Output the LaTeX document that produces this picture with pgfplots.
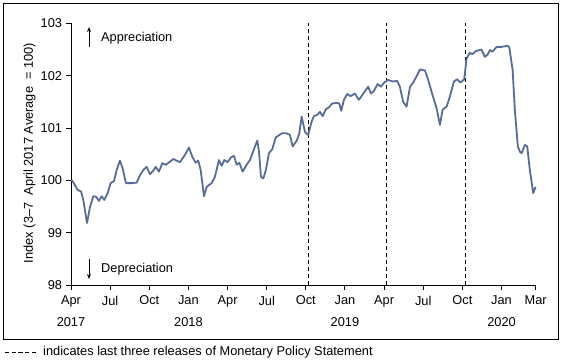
\documentclass[border=0pt]{standalone}
\usepackage{pgfplots}
\pgfplotsset{compat=1.18}
\usetikzlibrary{arrows.meta}
\usepackage{fontspec}
\setmainfont{Liberation Sans}
\definecolor{linec}{RGB}{88,108,150}
\begin{document}
\fontsize{12.8}{15}\selectfont
\begin{tikzpicture}
\useasboundingbox (0,0) rectangle (561pt,-362pt);
\draw[line width=1pt] (3pt,-3pt) rectangle (558pt,-339pt);
\begin{axis}[
 scale only axis, width=464.7pt, height=262pt,
 at={(71pt,-285.3pt)}, anchor=south west,
 xmin=0, xmax=35.62, ymin=98, ymax=103,
 axis x line*=bottom, axis y line*=left,
 axis line style={line width=1pt},
 tick align=outside, major tick length=4.5pt,
 tick style={line width=1pt, black},
 xtick={0,3,6,9,12,15,18,21,24,27,30,33,35.62},
 xticklabels={Apr,Jul,Oct,Jan,Apr,Jul,Oct,Jan,Apr,Jul,Oct,Jan,Mar},
 ytick={98,99,100,101,102,103},
 /pgf/number format/assume math mode=true,
 ticklabel style={font=\fontsize{12.8}{15}\selectfont},
 xticklabel style={yshift=-1.5pt},
 clip=false,
 ]
\addplot[black, line width=0.9pt, dash pattern=on 4pt off 3pt] coordinates {(18.18,98) (18.18,103)};
\addplot[black, line width=0.9pt, dash pattern=on 4pt off 3pt] coordinates {(24.16,98) (24.16,103)};
\addplot[black, line width=0.9pt, dash pattern=on 4pt off 3pt] coordinates {(30.21,98) (30.21,103)};
\addplot[linec, line width=1.8pt, line join=round] coordinates {
(0.05,100.01) (0.31,99.91) (0.51,99.82) (0.77,99.79) (0.94,99.63) (1.23,99.19)
(1.46,99.50) (1.71,99.70) (1.92,99.69) (2.15,99.61) (2.35,99.70) (2.55,99.63)
(2.81,99.76) (3.04,99.95) (3.30,99.99) (3.50,100.20) (3.75,100.38) (3.96,100.23)
(4.21,99.95) (4.65,99.95) (5.03,99.96) (5.29,100.10) (5.54,100.20) (5.80,100.26)
(6.05,100.12) (6.31,100.19) (6.49,100.26) (6.74,100.17) (7.00,100.33) (7.26,100.30)
(7.59,100.36) (7.84,100.41) (8.35,100.35) (8.74,100.49) (9.04,100.63) (9.30,100.45)
(9.56,100.34) (9.75,100.38) (9.94,100.20) (10.19,99.70) (10.40,99.88) (10.78,99.95)
(11.03,100.07) (11.34,100.39) (11.55,100.28) (11.75,100.39) (12.01,100.35) (12.26,100.44)
(12.49,100.47) (12.70,100.30) (12.90,100.34) (13.16,100.17) (13.46,100.30) (13.72,100.39)
(14.10,100.65) (14.28,100.76) (14.41,100.55) (14.56,100.07) (14.74,100.04) (14.94,100.20)
(15.17,100.52) (15.43,100.60) (15.69,100.82) (16.15,100.90) (16.53,100.90) (16.78,100.87)
(16.99,100.65) (17.30,100.76) (17.49,100.89) (17.68,101.22) (17.93,100.93) (18.18,100.87)
(18.44,101.12) (18.62,101.23) (18.87,101.25) (19.08,101.31) (19.29,101.23) (19.54,101.36)
(19.79,101.40) (20.02,101.47) (20.36,101.48) (20.56,101.47) (20.71,101.33) (20.92,101.54)
(21.17,101.65) (21.43,101.61) (21.76,101.66) (22.07,101.54) (22.32,101.63) (22.78,101.79)
(22.99,101.66) (23.22,101.71) (23.50,101.84) (23.75,101.79) (24.01,101.87) (24.31,101.92)
(24.65,101.89) (25.00,101.90) (25.21,101.79) (25.46,101.50) (25.72,101.41) (25.98,101.78)
(26.28,101.89) (26.61,102.05) (26.74,102.12) (27.13,102.10) (27.38,101.92) (27.64,101.69)
(28.02,101.38) (28.28,101.06) (28.48,101.35) (28.79,101.41) (29.04,101.60) (29.35,101.89)
(29.60,101.93) (29.86,101.87) (30.14,101.93) (30.32,102.33) (30.57,102.44) (30.75,102.41)
(31.03,102.47) (31.47,102.50) (31.72,102.36) (31.93,102.40) (32.11,102.49) (32.31,102.46)
(32.62,102.55) (33.00,102.55) (33.43,102.57) (33.59,102.55) (33.85,102.11) (34.02,101.35)
(34.15,100.96) (34.25,100.65) (34.41,100.55) (34.54,100.52) (34.79,100.68) (34.97,100.65)
(35.17,100.20) (35.43,99.76) (35.61,99.88)
};
\node at (axis cs:0,98) [yshift=-36.4pt] {2017};
\node at (axis cs:9,98) [yshift=-36.4pt] {2018};
\node at (axis cs:21,98) [yshift=-36.4pt] {2019};
\node at (axis cs:33,98) [yshift=-36.4pt] {2020};
\end{axis}
\node[rotate=90] at (29.5pt,-153pt) {Index (3--7\ \ April 2017 Average\ \ = 100)};
\draw[-{Stealth[length=5pt,width=4pt]}, line width=0.9pt] (89pt,-47pt) -- (89pt,-27pt);
\node[anchor=west, inner sep=0pt] at (101pt,-38pt) {Appreciation};
\draw[-{Stealth[length=5pt,width=4pt]}, line width=0.9pt] (89pt,-259pt) -- (89pt,-279pt);
\node[anchor=west, inner sep=0pt] at (101pt,-269.5pt) {Depreciation};
\draw[line width=0.9pt, dash pattern=on 4.3pt off 2.4pt] (5pt,-352.5pt) -- (38pt,-352.5pt);
\node[anchor=west, inner sep=0pt] at (43pt,-352.5pt) {indicates last three releases of Monetary Policy Statement};
\end{tikzpicture}
\end{document}
